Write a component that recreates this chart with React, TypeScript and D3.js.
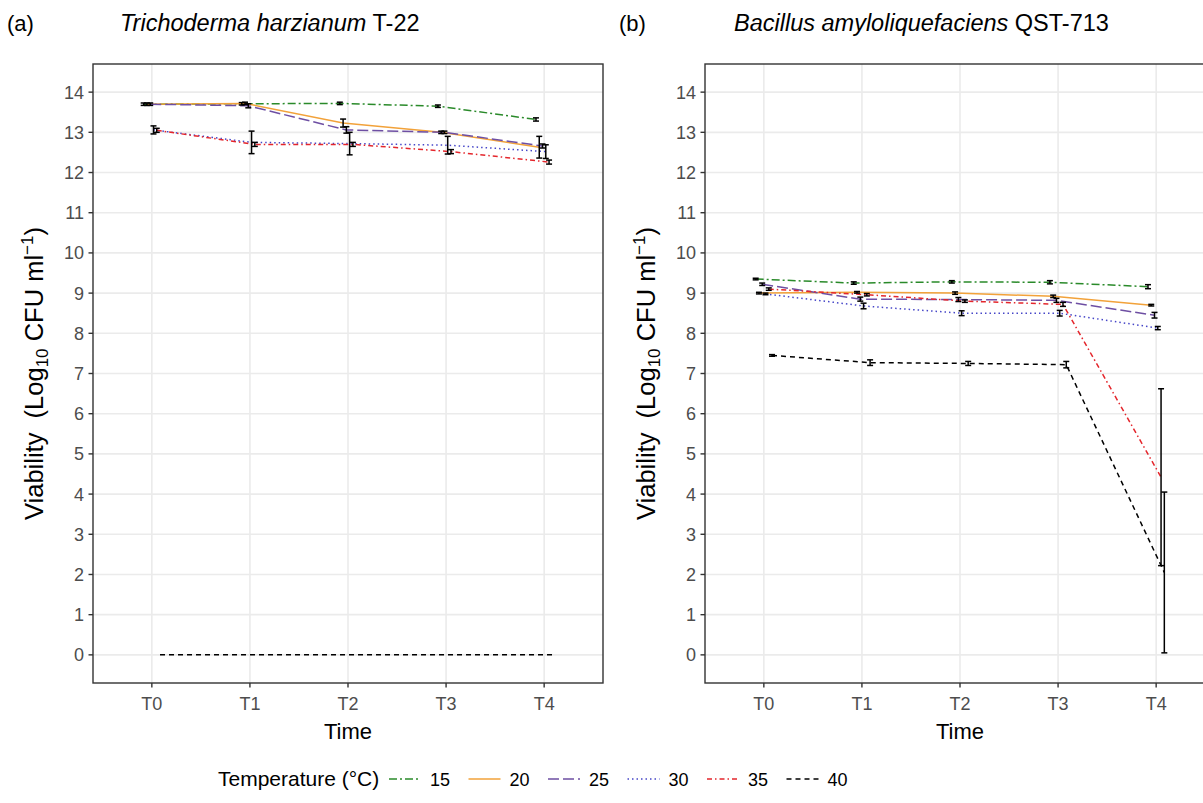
import React from "react";
import * as d3 from "d3";

const times = ["T0", "T1", "T2", "T3", "T4"];
const temps = ["15", "20", "25", "30", "35", "40"];
const yTicks = [0, 1, 2, 3, 4, 5, 6, 7, 8, 9, 10, 11, 12, 13, 14];

// Panel (a) Trichoderma harzianum T-22
const tricho15 = [13.7, 13.71, 13.72, 13.65, 13.32];
const tricho20 = [13.7, 13.72, 13.23, 13.0, 12.63];
const tricho25 = [13.7, 13.66, 13.06, 13.0, 12.66];
const tricho30 = [13.06, 12.75, 12.72, 12.68, 12.52];
const tricho35 = [13.05, 12.7, 12.7, 12.52, 12.26];
const tricho40 = [0, 0, 0, 0, 0];
const tricho15sd = [0.03, 0.03, 0.03, 0.03, 0.04];
const tricho20sd = [0.03, 0.03, 0.1, 0.03, 0.27];
const tricho25sd = [0.03, 0.05, 0.08, 0.03, 0.05];
const tricho30sd = [0.1, 0.28, 0.28, 0.22, 0.17];
const tricho35sd = [0.05, 0.05, 0.05, 0.05, 0.05];
const tricho40sd = [0, 0, 0, 0, 0];

// Panel (b) Bacillus amyloliquefaciens QST-713
const bac15 = [9.35, 9.25, 9.28, 9.27, 9.16];
const bac20 = [9.0, 9.02, 9.0, 8.92, 8.7];
const bac25 = [9.22, 8.85, 8.84, 8.82, 8.45];
const bac30 = [8.98, 8.68, 8.5, 8.5, 8.13];
const bac35 = [9.1, 8.96, 8.8, 8.72, 4.42];
const bac40 = [7.45, 7.27, 7.25, 7.22, 2.05];
const bac15sd = [0.02, 0.03, 0.03, 0.04, 0.05];
const bac20sd = [0.02, 0.02, 0.03, 0.03, 0.02];
const bac25sd = [0.03, 0.05, 0.05, 0.05, 0.07];
const bac30sd = [0.02, 0.07, 0.06, 0.07, 0.04];
const bac35sd = [0.03, 0.03, 0.03, 0.05, 2.2];
const bac40sd = [0.02, 0.07, 0.05, 0.08, 2.0];

const colors = ["#2A8A2A", "#F2A23A", "#6E4FA3", "#4646C8", "#E4262C", "#000000"];
const dashes = ["8,3,2,3", "", "11,4", "1.5,3", "5,3,1.5,3", "5,4"];

const trichoMeans = [tricho15, tricho20, tricho25, tricho30, tricho35, tricho40];
const trichoSds = [tricho15sd, tricho20sd, tricho25sd, tricho30sd, tricho35sd, tricho40sd];
const bacMeans = [bac15, bac20, bac25, bac30, bac35, bac40];
const bacSds = [bac15sd, bac20sd, bac25sd, bac30sd, bac35sd, bac40sd];

const FONT = "Liberation Sans, Arial, Helvetica, sans-serif";

function Panel({ left, right, top, bottom, means, sds, tag, titleItalic, titleRest, tagX, titleX }) {
  // discrete axis with ggplot-like 0.6 unit expansion on each side
  const unit = (right - left) / (times.length - 1 + 1.2);
  const x = d3
    .scalePoint<string>()
    .domain(times)
    .range([left + 0.6 * unit, right - 0.6 * unit]);
  const xPos = (i: number) => x(times[i]) as number;
  const y = d3.scaleLinear().domain([-0.7, 14.7]).range([bottom, top]);
  const dodge = 0.2 * unit;
  const off = (g: number) => (g - (temps.length - 1) / 2) * (dodge / temps.length);
  const line = d3
    .line<[number, number]>()
    .x((d) => d[0])
    .y((d) => d[1]);
  const cx = (left + right) / 2;
  const cy = (top + bottom) / 2;
  return (
    <g>
      <text x={tagX} y={31} fontSize={22} fontFamily={FONT} fill="#000">{tag}</text>
      <text x={titleX} y={31} fontSize={23.5} fontFamily={FONT} fill="#000">
        <tspan fontStyle="italic">{titleItalic}</tspan>
        <tspan>{titleRest}</tspan>
      </text>
      {yTicks.map((t) => (
        <line key={"gy" + t} x1={left} x2={right} y1={y(t)} y2={y(t)} stroke="#EBEBEB" strokeWidth={1.6} />
      ))}
      {times.map((t, i) => (
        <line key={"gx" + t} x1={xPos(i)} x2={xPos(i)} y1={top} y2={bottom} stroke="#EBEBEB" strokeWidth={1.6} />
      ))}
      {means.map((m, g) => (
        <path
          key={"l" + g}
          d={line(m.map((v, i) => [xPos(i) + off(g), y(v)] as [number, number])) || ""}
          fill="none"
          stroke={colors[g]}
          strokeWidth={1.5}
          strokeDasharray={dashes[g]}
        />
      ))}
      {means.map((m, g) =>
        m.map((v, i) => {
          const sd = sds[g][i];
          if (sd <= 0) return null;
          const px = xPos(i) + off(g);
          const y1 = y(v + sd);
          const y2 = y(v - sd);
          return (
            <g key={"e" + g + "-" + i} stroke="#000" strokeWidth={1.5}>
              <line x1={px} x2={px} y1={y1} y2={y2} />
              <line x1={px - 3} x2={px + 3} y1={y1} y2={y1} />
              <line x1={px - 3} x2={px + 3} y1={y2} y2={y2} />
            </g>
          );
        })
      )}
      <rect x={left} y={top} width={right - left} height={bottom - top} fill="none" stroke="#333333" strokeWidth={1.4} />
      {yTicks.map((t) => (
        <g key={"ty" + t}>
          <line x1={left - 4.5} x2={left} y1={y(t)} y2={y(t)} stroke="#333333" strokeWidth={1.4} />
          <text x={left - 9} y={y(t)} dy="0.36em" textAnchor="end" fontSize={18} fontFamily={FONT} fill="#4D4D4D">{t}</text>
        </g>
      ))}
      {times.map((t, i) => (
        <g key={"tx" + t}>
          <line x1={xPos(i)} x2={xPos(i)} y1={bottom} y2={bottom + 4.5} stroke="#333333" strokeWidth={1.4} />
          <text x={xPos(i)} y={bottom + 27} textAnchor="middle" fontSize={18} fontFamily={FONT} fill="#4D4D4D">{t}</text>
        </g>
      ))}
      <text x={cx} y={bottom + 56} textAnchor="middle" fontSize={22} fontFamily={FONT} fill="#000">Time</text>
      <text
        transform={`translate(${left - 50},${cy}) rotate(-90)`}
        textAnchor="middle"
        fontSize={25.5}
        fontFamily={FONT}
        fill="#000"
        style={{ whiteSpace: "pre" }}
      >
        <tspan>{"Viability  (Log"}</tspan>
        <tspan fontSize={17} dy={5}>10</tspan>
        <tspan dy={-5}>{" CFU ml"}</tspan>
        <tspan fontSize={17} dy={-10}>−1</tspan>
        <tspan dy={10}>)</tspan>
      </text>
    </g>
  );
}

export default function App() {
  const legendX = 218;
  const legendY = 786;
  const keyStart = 389;
  const step = 79.5;
  return (
    <svg width={1203} height={803} style={{ position: "absolute", left: 0, top: 0, background: "#fff" }}>
      <rect width={1203} height={803} fill="#fff" />
      <Panel left={93} right={603} top={64} bottom={683} means={trichoMeans} sds={trichoSds}
        tag="(a)" titleItalic="Trichoderma harzianum" titleRest=" T-22" tagX={7} titleX={120} />
      <Panel left={705} right={1215} top={64} bottom={683} means={bacMeans} sds={bacSds}
        tag="(b)" titleItalic="Bacillus amyloliquefaciens" titleRest=" QST-713" tagX={619} titleX={734} />
      <text x={legendX} y={legendY} fontSize={21} fontFamily={FONT} fill="#000">Temperature (°C)</text>
      {temps.map((t, g) => {
        const kx = keyStart + g * step;
        return (
          <g key={"lg" + t}>
            <line x1={kx} x2={kx + 32} y1={legendY - 7} y2={legendY - 7} stroke={colors[g]} strokeWidth={1.5} strokeDasharray={dashes[g]} />
            <text x={kx + 41} y={legendY} fontSize={18} fontFamily={FONT} fill="#000">{t}</text>
          </g>
        );
      })}
    </svg>
  );
}
